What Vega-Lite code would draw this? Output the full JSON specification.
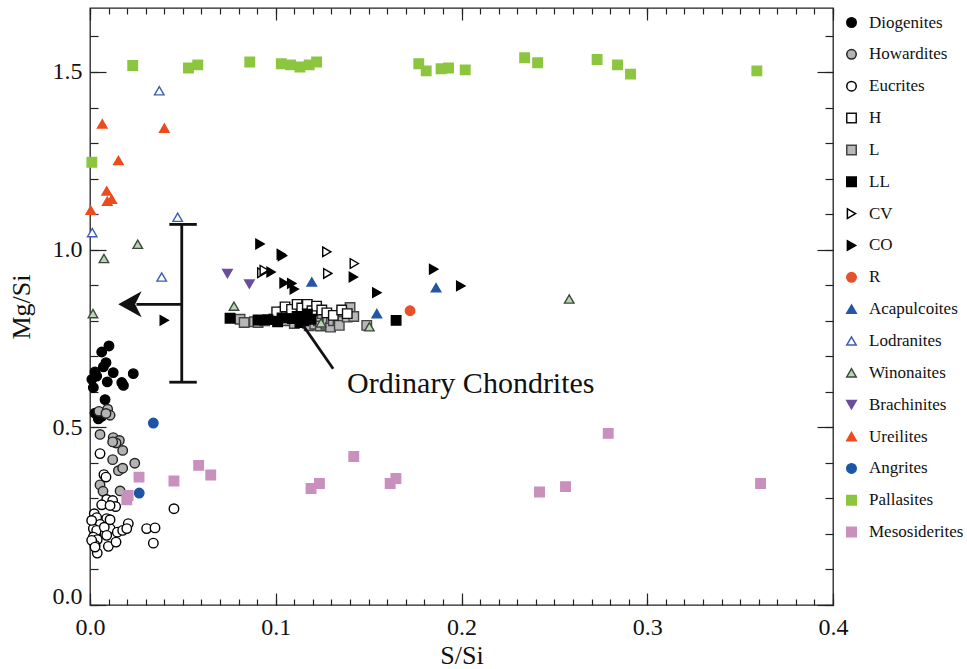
{
  "$schema": "https://vega.github.io/schema/vega-lite/v6.json",
  "autosize": {"type": "none"},
  "width": 743,
  "height": 597,
  "padding": {"left": 90, "top": 8, "right": 134, "bottom": 64},
  "background": "white",
  "config": {
    "font": "Liberation Serif",
    "view": {"stroke": "#222", "strokeWidth": 1.3},
    "axis": {"domain": false, "grid": false, "tickColor": "#222", "tickWidth": 1.2, "labelFont": "Liberation Serif", "titleFont": "Liberation Serif", "labelColor": "#111", "titleColor": "#111", "titleFontWeight": "normal"},
    "legend": {"orient": "none", "legendX": 753, "legendY": 6, "padding": 0, "labelFont": "Liberation Serif", "labelFontSize": 17, "labelColor": "#111", "rowPadding": 13.85, "symbolSize": 90, "symbolStrokeWidth": 1.5, "labelOffset": 9, "titlePadding": 0}
  },
  "layer": [
    {
      "data": {"values": [
        {"t":"Diogenites","x":0.0102,"y":0.729},{"t":"Diogenites","x":0.0063,"y":0.712},{"t":"Diogenites","x":0.0086,"y":0.682},{"t":"Diogenites","x":0.0072,"y":0.670},{"t":"Diogenites","x":0.0027,"y":0.656},{"t":"Diogenites","x":0.0036,"y":0.644},{"t":"Diogenites","x":0.0125,"y":0.654},{"t":"Diogenites","x":0.0233,"y":0.651},{"t":"Diogenites","x":0.0093,"y":0.628},{"t":"Diogenites","x":0.0171,"y":0.626},{"t":"Diogenites","x":0.018,"y":0.618},{"t":"Diogenites","x":0.0018,"y":0.612},{"t":"Diogenites","x":0.0081,"y":0.578},{"t":"Diogenites","x":0.0045,"y":0.524},{"t":"Diogenites","x":0.0063,"y":0.531},{"t":"Diogenites","x":0.0027,"y":0.540},{"t":"Diogenites","x":0.001,"y":0.635},
        {"t":"Howardites","x":0.0048,"y":0.545},{"t":"Howardites","x":0.0095,"y":0.551},{"t":"Howardites","x":0.0108,"y":0.534},{"t":"Howardites","x":0.0054,"y":0.480},{"t":"Howardites","x":0.0125,"y":0.471},{"t":"Howardites","x":0.0158,"y":0.463},{"t":"Howardites","x":0.014,"y":0.456},{"t":"Howardites","x":0.0176,"y":0.435},{"t":"Howardites","x":0.0122,"y":0.409},{"t":"Howardites","x":0.0241,"y":0.399},{"t":"Howardites","x":0.0153,"y":0.378},{"t":"Howardites","x":0.0176,"y":0.385},{"t":"Howardites","x":0.0054,"y":0.338},{"t":"Howardites","x":0.007,"y":0.32},{"t":"Howardites","x":0.0162,"y":0.321},{"t":"Howardites","x":0.0086,"y":0.539},{"t":"Howardites","x":0.0122,"y":0.459},
        {"t":"Eucrites","x":0.0054,"y":0.426},{"t":"Eucrites","x":0.0075,"y":0.367},{"t":"Eucrites","x":0.0086,"y":0.36},{"t":"Eucrites","x":0.009,"y":0.297},{"t":"Eucrites","x":0.0122,"y":0.294},{"t":"Eucrites","x":0.0063,"y":0.282},{"t":"Eucrites","x":0.0138,"y":0.277},{"t":"Eucrites","x":0.0108,"y":0.28},{"t":"Eucrites","x":0.0023,"y":0.257},{"t":"Eucrites","x":0.0036,"y":0.246},{"t":"Eucrites","x":0.009,"y":0.243},{"t":"Eucrites","x":0.0206,"y":0.229},{"t":"Eucrites","x":0.0054,"y":0.227},{"t":"Eucrites","x":0.0018,"y":0.215},{"t":"Eucrites","x":0.0036,"y":0.21},{"t":"Eucrites","x":0.0081,"y":0.20},{"t":"Eucrites","x":0.0108,"y":0.215},{"t":"Eucrites","x":0.0147,"y":0.205},{"t":"Eucrites","x":0.0176,"y":0.21},{"t":"Eucrites","x":0.0198,"y":0.215},{"t":"Eucrites","x":0.0018,"y":0.191},{"t":"Eucrites","x":0.0039,"y":0.184},{"t":"Eucrites","x":0.0027,"y":0.168},{"t":"Eucrites","x":0.0039,"y":0.146},{"t":"Eucrites","x":0.0099,"y":0.165},{"t":"Eucrites","x":0.014,"y":0.177},{"t":"Eucrites","x":0.0305,"y":0.215},{"t":"Eucrites","x":0.035,"y":0.217},{"t":"Eucrites","x":0.0341,"y":0.174},{"t":"Eucrites","x":0.0452,"y":0.271},{"t":"Eucrites","x":0.0077,"y":0.219},{"t":"Eucrites","x":0.0009,"y":0.238},{"t":"Eucrites","x":0.0009,"y":0.182},{"t":"Eucrites","x":0.0108,"y":0.24},{"t":"Eucrites","x":0.009,"y":0.196},{"t":"Eucrites","x":0.0027,"y":0.163},
        {"t":"L","x":0.0808,"y":0.804},{"t":"L","x":0.083,"y":0.795},{"t":"L","x":0.0885,"y":0.797},{"t":"L","x":0.0905,"y":0.795},{"t":"L","x":0.094,"y":0.8},{"t":"L","x":0.099,"y":0.805},{"t":"L","x":0.102,"y":0.812},{"t":"L","x":0.104,"y":0.825},{"t":"L","x":0.106,"y":0.80},{"t":"L","x":0.108,"y":0.817},{"t":"L","x":0.11,"y":0.792},{"t":"L","x":0.112,"y":0.82},{"t":"L","x":0.114,"y":0.805},{"t":"L","x":0.116,"y":0.825},{"t":"L","x":0.117,"y":0.793},{"t":"L","x":0.118,"y":0.786},{"t":"L","x":0.12,"y":0.81},{"t":"L","x":0.121,"y":0.79},{"t":"L","x":0.123,"y":0.80},{"t":"L","x":0.124,"y":0.785},{"t":"L","x":0.125,"y":0.82},{"t":"L","x":0.127,"y":0.79},{"t":"L","x":0.128,"y":0.797},{"t":"L","x":0.1295,"y":0.782},{"t":"L","x":0.13,"y":0.806},{"t":"L","x":0.131,"y":0.8},{"t":"L","x":0.1335,"y":0.801},{"t":"L","x":0.1342,"y":0.787},{"t":"L","x":0.1357,"y":0.825},{"t":"L","x":0.1385,"y":0.81},{"t":"L","x":0.14,"y":0.837},{"t":"L","x":0.142,"y":0.812},{"t":"L","x":0.149,"y":0.787},
        {"t":"H","x":0.1005,"y":0.825},{"t":"H","x":0.105,"y":0.839},{"t":"H","x":0.1085,"y":0.832},{"t":"H","x":0.1115,"y":0.846},{"t":"H","x":0.114,"y":0.836},{"t":"H","x":0.117,"y":0.846},{"t":"H","x":0.1195,"y":0.828},{"t":"H","x":0.122,"y":0.841},{"t":"H","x":0.1248,"y":0.83},{"t":"H","x":0.1275,"y":0.822},{"t":"H","x":0.131,"y":0.815},{"t":"H","x":0.1355,"y":0.83},{"t":"H","x":0.1385,"y":0.82},
        {"t":"LL","x":0.0754,"y":0.807},{"t":"LL","x":0.0905,"y":0.802},{"t":"LL","x":0.0958,"y":0.803},{"t":"LL","x":0.101,"y":0.797},{"t":"LL","x":0.1034,"y":0.808},{"t":"LL","x":0.109,"y":0.806},{"t":"LL","x":0.1115,"y":0.812},{"t":"LL","x":0.113,"y":0.795},{"t":"LL","x":0.115,"y":0.800},{"t":"LL","x":0.117,"y":0.818},{"t":"LL","x":0.119,"y":0.804},{"t":"LL","x":0.1648,"y":0.801},
        {"t":"CV","x":0.0925,"y":0.935},{"t":"CV","x":0.0938,"y":0.942},{"t":"CV","x":0.1275,"y":0.994},{"t":"CV","x":0.1423,"y":0.961},{"t":"CV","x":0.128,"y":0.933},
        {"t":"CO","x":0.0915,"y":1.016},{"t":"CO","x":0.103,"y":0.987},{"t":"CO","x":0.1036,"y":0.983},{"t":"CO","x":0.0975,"y":0.937},{"t":"CO","x":0.1045,"y":0.906},{"t":"CO","x":0.1086,"y":0.905},{"t":"CO","x":0.110,"y":0.889},{"t":"CO","x":0.1418,"y":0.923},{"t":"CO","x":0.040,"y":0.801},{"t":"CO","x":0.185,"y":0.945},{"t":"CO","x":0.1996,"y":0.898},{"t":"CO","x":0.1544,"y":0.879},
        {"t":"R","x":0.1723,"y":0.828},
        {"t":"Acapulcoites","x":0.1194,"y":0.909},{"t":"Acapulcoites","x":0.1544,"y":0.82},{"t":"Acapulcoites","x":0.1863,"y":0.893},
        {"t":"Lodranites","x":0.0373,"y":1.447},{"t":"Lodranites","x":0.0472,"y":1.091},{"t":"Lodranites","x":0.0012,"y":1.048},{"t":"Lodranites","x":0.0386,"y":0.923},
        {"t":"Winonaites","x":0.0257,"y":1.015},{"t":"Winonaites","x":0.0075,"y":0.975},{"t":"Winonaites","x":0.0016,"y":0.82},{"t":"Winonaites","x":0.0775,"y":0.841},{"t":"Winonaites","x":0.1244,"y":0.794},{"t":"Winonaites","x":0.1504,"y":0.783},{"t":"Winonaites","x":0.258,"y":0.861},
        {"t":"Brachinites","x":0.074,"y":0.933},{"t":"Brachinites","x":0.0858,"y":0.903},
        {"t":"Ureilites","x":0.0066,"y":1.354},{"t":"Ureilites","x":0.040,"y":1.342},{"t":"Ureilites","x":0.0153,"y":1.251},{"t":"Ureilites","x":0.009,"y":1.165},{"t":"Ureilites","x":0.0093,"y":1.136},{"t":"Ureilites","x":0.0117,"y":1.142},{"t":"Ureilites","x":0.0004,"y":1.111},
        {"t":"Angrites","x":0.0341,"y":0.512},{"t":"Angrites","x":0.0265,"y":0.315},
        {"t":"Pallasites","x":0.001,"y":1.246},{"t":"Pallasites","x":0.023,"y":1.518},{"t":"Pallasites","x":0.053,"y":1.511},{"t":"Pallasites","x":0.058,"y":1.52},{"t":"Pallasites","x":0.086,"y":1.528},{"t":"Pallasites","x":0.103,"y":1.523},{"t":"Pallasites","x":0.108,"y":1.52},{"t":"Pallasites","x":0.113,"y":1.514},{"t":"Pallasites","x":0.118,"y":1.52},{"t":"Pallasites","x":0.122,"y":1.528},{"t":"Pallasites","x":0.177,"y":1.523},{"t":"Pallasites","x":0.181,"y":1.503},{"t":"Pallasites","x":0.189,"y":1.509},{"t":"Pallasites","x":0.193,"y":1.511},{"t":"Pallasites","x":0.202,"y":1.506},{"t":"Pallasites","x":0.234,"y":1.54},{"t":"Pallasites","x":0.241,"y":1.526},{"t":"Pallasites","x":0.273,"y":1.535},{"t":"Pallasites","x":0.284,"y":1.52},{"t":"Pallasites","x":0.291,"y":1.494},{"t":"Pallasites","x":0.359,"y":1.503},
        {"t":"Mesosiderites","x":0.0198,"y":0.296},{"t":"Mesosiderites","x":0.0205,"y":0.308},{"t":"Mesosiderites","x":0.0264,"y":0.36},{"t":"Mesosiderites","x":0.0452,"y":0.349},{"t":"Mesosiderites","x":0.0585,"y":0.393},{"t":"Mesosiderites","x":0.065,"y":0.366},{"t":"Mesosiderites","x":0.119,"y":0.328},{"t":"Mesosiderites","x":0.1235,"y":0.342},{"t":"Mesosiderites","x":0.142,"y":0.418},{"t":"Mesosiderites","x":0.1616,"y":0.342},{"t":"Mesosiderites","x":0.1647,"y":0.356},{"t":"Mesosiderites","x":0.242,"y":0.318},{"t":"Mesosiderites","x":0.256,"y":0.333},{"t":"Mesosiderites","x":0.279,"y":0.483},{"t":"Mesosiderites","x":0.361,"y":0.342}
      ]},
      "mark": {"type": "point", "size": 90, "strokeWidth": 1.4, "opacity": 1, "fillOpacity": 1, "strokeOpacity": 1},
      "encoding": {
        "x": {"field": "x", "type": "quantitative", "scale": {"domain": [0, 0.4], "nice": false, "zero": false},
          "axis": {"orient": "bottom", "values": [0, 0.1, 0.2, 0.3, 0.4], "format": ".1f", "ticks": false, "labelFontSize": 24, "labelPadding": 10, "labelFlush": false, "title": "S/Si", "titleFontSize": 26, "titlePadding": 3}},
        "y": {"field": "y", "type": "quantitative", "scale": {"domain": [0, 1.68], "nice": false, "zero": false},
          "axis": {"orient": "left", "values": [0, 0.5, 1, 1.5], "format": ".1f", "ticks": false, "labelFontSize": 24, "labelPadding": 8, "labelFlush": true, "labelFlushOffset": 3, "title": "Mg/Si", "titleFontSize": 26, "titlePadding": 18}},
        "shape": {"field": "t", "type": "nominal", "title": null,
          "scale": {"domain": ["Diogenites","Howardites","Eucrites","H","L","LL","CV","CO","R","Acapulcoites","Lodranites","Winonaites","Brachinites","Ureilites","Angrites","Pallasites","Mesosiderites"],
            "range": ["circle","circle","circle","square","square","square","triangle-right","triangle-right","circle","triangle-up","triangle-up","triangle-up","triangle-down","triangle-up","circle","square","square"]}},
        "fill": {"field": "t", "type": "nominal", "title": null,
          "scale": {"domain": ["Diogenites","Howardites","Eucrites","H","L","LL","CV","CO","R","Acapulcoites","Lodranites","Winonaites","Brachinites","Ureilites","Angrites","Pallasites","Mesosiderites"],
            "range": ["#000000","#b3b3b3","#ffffff","#ffffff","#b8b8b8","#000000","#ffffff","#000000","#e8502a","#2456a5","#ffffff","#b8d6b3","#6a4d9e","#ec4b1d","#1d55a6","#8cc63f","#c98fbd"]}},
        "stroke": {"field": "t", "type": "nominal", "title": null,
          "scale": {"domain": ["Diogenites","Howardites","Eucrites","H","L","LL","CV","CO","R","Acapulcoites","Lodranites","Winonaites","Brachinites","Ureilites","Angrites","Pallasites","Mesosiderites"],
            "range": ["#000000","#222222","#000000","#111111","#444444","#000000","#000000","#000000","#e8502a","#2456a5","#3a5fb3","#3c4a3c","#6a4d9e","#ec4b1d","#1d55a6","#8cc63f","#c98fbd"]}}
      }
    },
    {
      "data": {"values": [
        {"x": 0.0494, "x2": 0.0494, "y": 0.627, "y2": 1.071},
        {"x": 0.0427, "x2": 0.0575, "y": 1.071, "y2": 1.071},
        {"x": 0.0427, "x2": 0.0575, "y": 0.627, "y2": 0.627},
        {"x": 0.0494, "x2": 0.025, "y": 0.846, "y2": 0.846}
      ]},
      "mark": {"type": "rule", "color": "#111", "strokeWidth": 2.8},
      "encoding": {
        "x": {"field": "x", "type": "quantitative", "scale": {"domain": [0, 0.4], "nice": false, "zero": false},
          "axis": {"orient": "bottom", "values": [0, 0.1, 0.2, 0.3, 0.4], "labels": false, "tickSize": -12, "title": null}},
        "x2": {"field": "x2"},
        "y": {"field": "y", "type": "quantitative", "scale": {"domain": [0, 1.68], "nice": false, "zero": false},
          "axis": {"orient": "left", "values": [0, 0.5, 1, 1.5], "labels": false, "tickSize": -16, "title": null}},
        "y2": {"field": "y2"}
      }
    },
    {
      "data": {"values": [{"x": 0.0152, "y": 0.846}]},
      "mark": {"type": "point", "shape": "M0,0L1.8,-1L1.3,0L1.8,1Z", "size": 676, "filled": true, "color": "#111", "opacity": 1, "strokeWidth": 0},
      "encoding": {
        "x": {"field": "x", "type": "quantitative", "scale": {"domain": [0, 0.4], "nice": false, "zero": false},
          "axis": {"orient": "bottom", "values": [0,0.01,0.02,0.03,0.04,0.05,0.06,0.07,0.08,0.09,0.1,0.11,0.12,0.13,0.14,0.15,0.16,0.17,0.18,0.19,0.2,0.21,0.22,0.23,0.24,0.25,0.26,0.27,0.28,0.29,0.3,0.31,0.32,0.33,0.34,0.35,0.36,0.37,0.38,0.39,0.4], "labels": false, "tickSize": -6, "title": null}},
        "y": {"field": "y", "type": "quantitative", "scale": {"domain": [0, 1.68], "nice": false, "zero": false},
          "axis": {"orient": "left", "values": [0,0.1,0.2,0.3,0.4,0.5,0.6,0.7,0.8,0.9,1,1.1,1.2,1.3,1.4,1.5,1.6], "labels": false, "tickSize": -8, "title": null}}
      }
    },
    {
      "data": {"values": [{"x": 0.1147, "x2": 0.1309, "y": 0.787, "y2": 0.665}]},
      "mark": {"type": "rule", "color": "#111", "strokeWidth": 2.8},
      "encoding": {
        "x": {"field": "x", "type": "quantitative", "scale": {"domain": [0, 0.4], "nice": false, "zero": false},
          "axis": {"orient": "top", "values": [0, 0.1, 0.2, 0.3, 0.4], "labels": false, "tickSize": -12, "title": null}},
        "x2": {"field": "x2"},
        "y": {"field": "y", "type": "quantitative", "scale": {"domain": [0, 1.68], "nice": false, "zero": false},
          "axis": {"orient": "right", "values": [0, 0.5, 1, 1.5], "labels": false, "tickSize": -16, "title": null}},
        "y2": {"field": "y2"}
      }
    },
    {
      "data": {"values": [{"x": 0.1384, "y": 0.596, "label": "Ordinary Chondrites"}]},
      "mark": {"type": "text", "align": "left", "baseline": "alphabetic", "fontSize": 30, "font": "Liberation Serif", "color": "#111"},
      "encoding": {
        "x": {"field": "x", "type": "quantitative", "scale": {"domain": [0, 0.4], "nice": false, "zero": false},
          "axis": {"orient": "top", "values": [0,0.01,0.02,0.03,0.04,0.05,0.06,0.07,0.08,0.09,0.1,0.11,0.12,0.13,0.14,0.15,0.16,0.17,0.18,0.19,0.2,0.21,0.22,0.23,0.24,0.25,0.26,0.27,0.28,0.29,0.3,0.31,0.32,0.33,0.34,0.35,0.36,0.37,0.38,0.39,0.4], "labels": false, "tickSize": -6, "title": null}},
        "y": {"field": "y", "type": "quantitative", "scale": {"domain": [0, 1.68], "nice": false, "zero": false},
          "axis": {"orient": "right", "values": [0,0.1,0.2,0.3,0.4,0.5,0.6,0.7,0.8,0.9,1,1.1,1.2,1.3,1.4,1.5,1.6], "labels": false, "tickSize": -8, "title": null}},
        "text": {"field": "label"}
      }
    }
  ],
  "resolve": {"axis": {"x": "independent", "y": "independent"}}
}
